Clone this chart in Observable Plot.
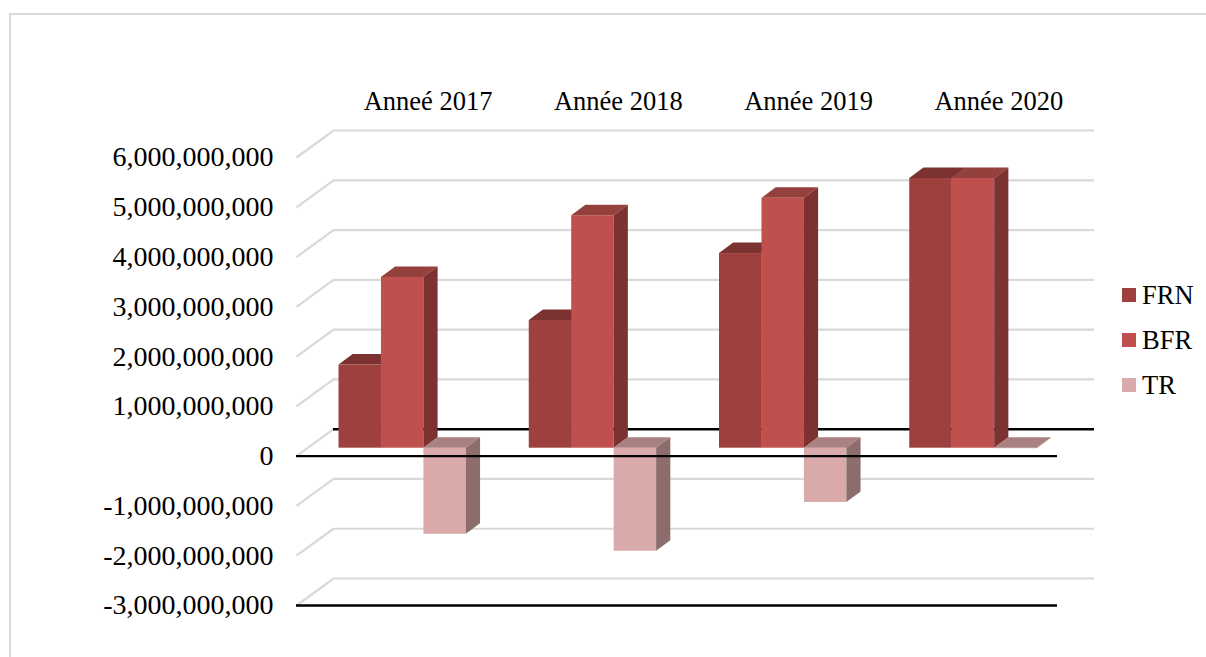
<!DOCTYPE html>
<html>
<head>
<meta charset="utf-8">
<script src="https://cdn.jsdelivr.net/npm/d3@7"></script>
<script src="https://cdn.jsdelivr.net/npm/@observablehq/plot@0.6"></script>
<style>
  html, body { margin: 0; padding: 0; background: #fff; overflow: hidden; width: 1206px; height: 657px; }
  #wrap { position: relative; width: 1206px; height: 657px; overflow: hidden; font-family: "Liberation Serif", serif; }
  #wrap svg { position: absolute; left: 0; top: 0; }
  #frame { position: absolute; left: 9px; top: 13px; width: 1300px; height: 800px; border: 2px solid #d9d9d9; }
  .leg { position: absolute; left: 1122px; font-size: 26.5px; line-height: 30px; color: #000; white-space: nowrap; }
  .leg i { position: absolute; left: 0; top: 8px; width: 14px; height: 14px; }
  .leg span { position: absolute; left: 20px; top: 0; }
</style>
</head>
<body>
<div id="wrap"></div>
<script>
const years = ["Anneé 2017", "Année 2018", "Année 2019", "Année 2020"];
const seriesNames = ["FRN", "BFR", "TR"];
const FRN = [1.67e9, 2.565e9, 3.91e9, 5.42e9];
const BFR = [3.43e9, 4.67e9, 5.02e9, 5.42e9];
const TR = [-1.73e9, -2.07e9, -1.09e9, -0.01e9];
const tickValues = [6e9, 5e9, 4e9, 3e9, 2e9, 1e9, 0, -1e9, -2e9, -3e9];

const frontColors = {FRN: "#9d403e", BFR: "#c0504d", TR: "#d9aaa9"};
const topColors = {FRN: "#7b3230", BFR: "#94403d", TR: "#a98180"};
const sideColors = {FRN: "#7b3230", BFR: "#7b3230", TR: "#8d6d6c"};
const seriesValues = {FRN, BFR, TR};

// Geometry of the pseudo-3D box, in scale units
const wallDX = 0.1945, wallDY = 0.542e9;   // floor depth
const barDX = 0.0745, barDY = 0.21e9;      // bar depth
const barW = 0.2232, barStart = 0.2234, barBase = 0.16e9;

const marks = [];
const gridTicks = tickValues;
// Back wall and floor lines
marks.push(Plot.link(gridTicks, {
  x1: () => 0, y1: d => d, x2: () => wallDX, y2: d => d + wallDY,
  stroke: "#d9d9d9", strokeWidth: 2.2
}));
marks.push(Plot.ruleY(gridTicks.filter(d => d !== 0), {
  y: d => d + wallDY, x1: () => wallDX, x2: () => 4 + wallDX, stroke: "#d9d9d9", strokeWidth: 2.2
}));
marks.push(Plot.ruleY([0], {
  y: d => d + wallDY, x1: () => wallDX, x2: () => 4 + wallDX, stroke: "#000", strokeWidth: 2.4
}));

// Bars
years.forEach((yr, i) => {
  seriesNames.forEach((name, s) => {
    const v = seriesValues[name][i];
    const left = i + barStart + s * barW, right = left + barW;
    const hi = barBase + Math.max(v, 0), lo = barBase + Math.min(v, 0);
    marks.push(Plot.rect([{v}], {
      x1: () => left, x2: () => right, y1: () => lo, y2: () => hi, fill: frontColors[name]
    }));
    marks.push(Plot.area([
      {x: left, y1: hi, y2: hi},
      {x: left + barDX, y1: hi, y2: hi + barDY},
      {x: right, y1: hi, y2: hi + barDY},
      {x: right + barDX, y1: hi + barDY, y2: hi + barDY}
    ], {x1: "x", y1: "y1", y2: "y2", fill: topColors[name]}));
    marks.push(Plot.area([
      {x: right, y1: lo, y2: hi},
      {x: right + barDX, y1: lo + barDY, y2: hi + barDY}
    ], {x1: "x", y1: "y1", y2: "y2", fill: sideColors[name]}));
  });
});

// Front lines
marks.push(Plot.ruleY([0, -3e9], {x1: () => 0, x2: () => 4, stroke: "#000", strokeWidth: 2.4}));

// Labels
marks.push(Plot.axisY(tickValues, {
  anchor: "left", tickSize: 0, tickPadding: 23,
  tickFormat: d => d3.format(",")(d).replace("\u2212", "-"),
  label: null, fontSize: 28, fill: "#000"
}));
marks.push(Plot.text(years, {
  x: (d, i) => i + 0.497 + wallDX, y: () => 7.13e9, text: d => d,
  fontSize: 26.5, fill: "#000", textAnchor: "middle"
}));

const chart = Plot.plot({
  width: 1206, height: 657,
  marginLeft: 296, marginRight: 149, marginTop: 157, marginBottom: 52,
  style: {fontFamily: "Liberation Serif", background: "transparent", overflow: "visible"},
  x: {type: "linear", domain: [0, 4], axis: null},
  y: {type: "linear", domain: [-3e9, 6e9], axis: null},
  marks
});

const wrap = document.getElementById("wrap");
wrap.appendChild(chart);
const frame = document.createElement("div");
frame.id = "frame";
wrap.appendChild(frame);
seriesNames.forEach((name, s) => {
  const el = document.createElement("div");
  el.className = "leg";
  el.style.top = (280 + s * 45) + "px";
  el.innerHTML = `<i style="background:${frontColors[name]}"></i><span>${name}</span>`;
  wrap.appendChild(el);
});
</script>
</body>
</html>
